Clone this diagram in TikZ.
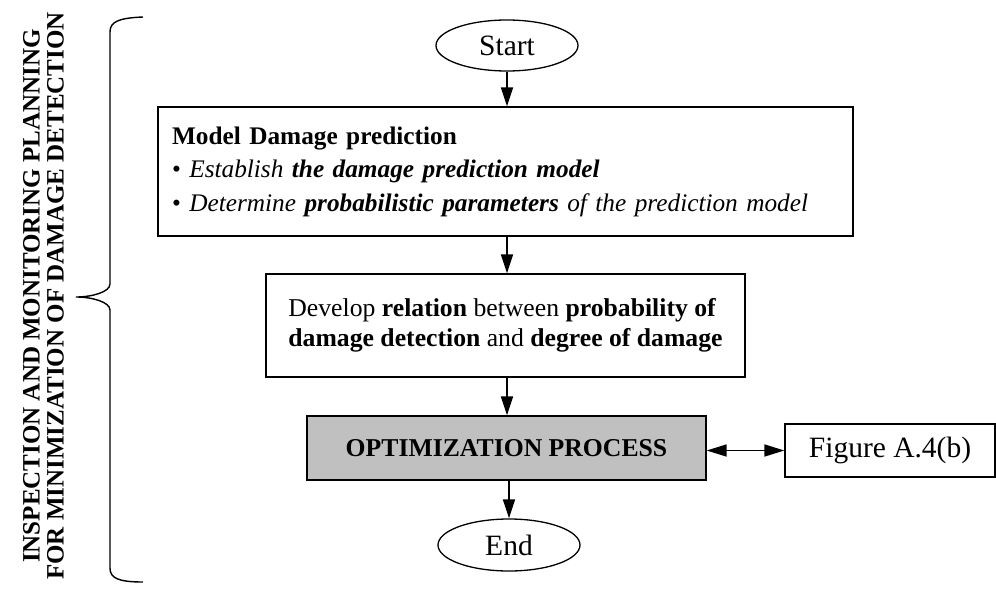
\documentclass[tikz,border=0pt]{standalone}
\usepackage{fontspec}
\setmainfont{Liberation Serif}
\usetikzlibrary{arrows.meta,positioning,shapes.geometric}
\definecolor{ink}{HTML}{000000}
\definecolor{procgray}{HTML}{C0C0C0}
\newcommand{\boxfont}{\fontsize{25.7}{30}\selectfont}
\newcommand{\termfont}{\fontsize{29.5}{32}\selectfont}

\begin{document}
\begin{tikzpicture}[x=1pt,y=-1pt,
  box/.style={draw=ink,line width=1.3pt,rectangle,inner sep=0pt,font=\boxfont},
  term/.style={draw=ink,line width=1.3pt,ellipse,inner sep=0pt,minimum width=142pt,minimum height=51pt,font=\termfont},
  flow/.style={-{Triangle[length=19pt,width=12pt]},ink,line width=1.6pt},
  dflow/.style={{Triangle[length=20pt,width=12pt]}-{Triangle[length=20pt,width=12pt]},ink,line width=1.6pt}]
\useasboundingbox (0,0) rectangle (996,589);
% side label and brace
\node[rotate=90,align=center,inner sep=0pt,font={\fontsize{25}{24}\selectfont\bfseries}] (title) at (43.5,296) {INSPECTION AND MONITORING PLANNING\\FOR MINIMIZATION OF DAMAGE DETECTION};
\draw[ink,line width=1.4pt] (143,17) .. controls (118,18) and (110,22) .. (110,32) -- (110,284) .. controls (110,292) and (92,297) .. (76,297) .. controls (92,297) and (110,302) .. (110,310) -- (110,568) .. controls (110,578) and (118,582) .. (143,582);
% flow chart
\node[term] (start) at (507,45.5) {Start};
\node[box,minimum width=695pt,minimum height=129pt,text width=667pt,align=left,font={\fontsize{25.3}{33.5}\selectfont}] (model) at (505.5,171.5) {\textbf{Model Damage prediction}\\\textbullet\ \textit{Establish \textbf{the damage prediction model}}\\\textbullet\ \textit{Determine \textbf{probabilistic parameters} of the prediction model}};
\node[box,minimum width=479pt,minimum height=103pt,align=left] (relation) at (505.5,325.5) {Develop \textbf{relation} between \textbf{probability of}\\\textbf{damage detection} and \textbf{degree of damage}};
\node[box,fill=procgray,minimum width=399pt,minimum height=64pt,font={\boxfont\bfseries}] (optim) at (506.5,448) {OPTIMIZATION PROCESS};
\node[box,minimum width=210pt,minimum height=53pt,font=\termfont] (figref) at (890,450.5) {Figure A.4(b)};
\node[term,minimum height=52pt] (end) at (509,545) {End};
\draw[flow] (start.south) -- (start.south |- model.north);
\draw[flow] (model.south -| start.south) -- (start.south |- relation.north);
\draw[flow] (relation.south -| start.south) -- (start.south |- optim.north);
\draw[flow] (optim.south -| end.north) -- (end.north);
\draw[dflow] (optim.east |- figref.west) -- (figref.west);
\end{tikzpicture}
\end{document}
